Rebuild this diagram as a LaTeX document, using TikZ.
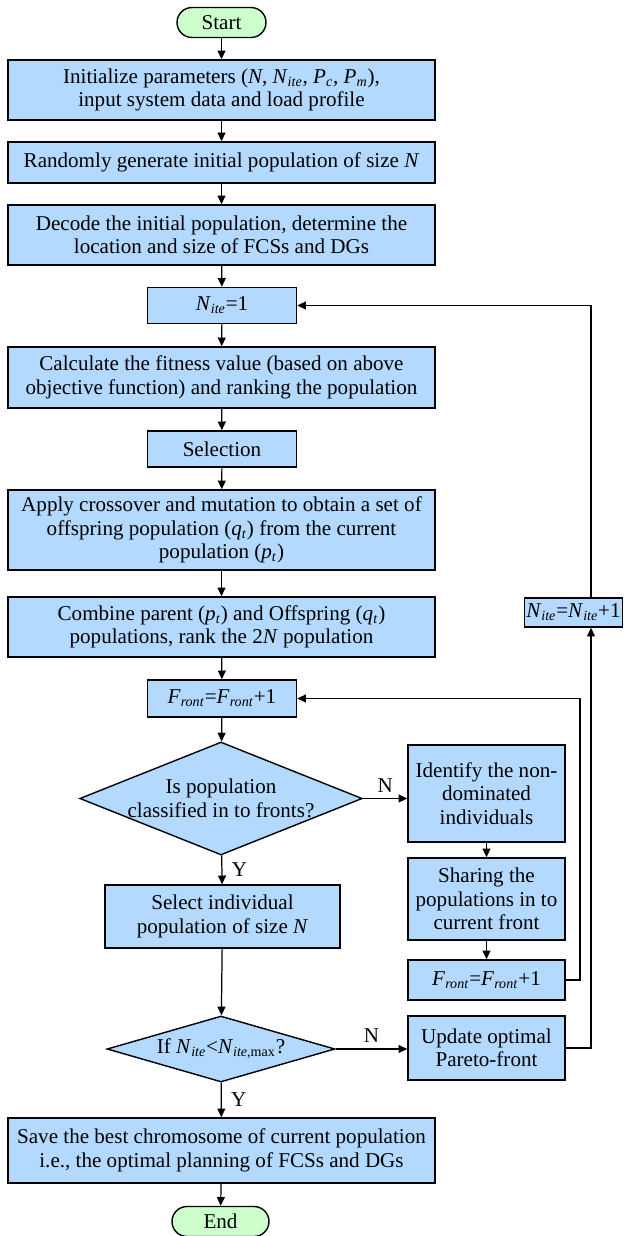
\documentclass[tikz,border=0pt]{standalone}
\usepackage{fontspec}
\setmainfont{Liberation Serif}
\usetikzlibrary{positioning, arrows.meta, shapes.geometric, calc}

\definecolor{boxblue}{RGB}{179,217,255}
\definecolor{termgreen}{RGB}{204,255,204}
% italic symbol with italic subscript
\newcommand{\subit}[2]{\textit{#1}\textsubscript{\textit{#2}}}

\begin{document}
\begin{tikzpicture}[
			x=0.02cm, y=-0.02cm, % one unit = one pixel of the layout
			>={Triangle[length=5pt,width=4.5pt]},
			font=\fontsize{12}{13.3}\selectfont,
			% Style for the start / end terminals
			terminal/.style={
				rectangle,
				rounded corners=0.3cm,
				draw,
				line width=0.8pt,
				fill=termgreen,
				minimum height=0.6cm,
				inner sep=1pt
			},
			% Style for the process boxes
			process/.style={
				rectangle,
				draw,
				line width=0.8pt,
				fill=boxblue,
				align=center,
				inner sep=1pt
			},
			wide/.style={process, minimum width=8.54cm},
			narrow/.style={process, minimum width=2.98cm, minimum height=0.72cm},
			side/.style={process, minimum width=3.14cm},
			% Style for the decisions
			decision/.style={
				diamond,
				draw,
				line width=0.8pt,
				fill=boxblue,
				align=center,
				inner sep=0pt
			},
			% Style for the connectors
			flow/.style={->, line width=0.7pt}
			]
			
			\useasboundingbox (0,0) rectangle (623,1236);
			
			% --- MAIN COLUMN ---
			\node[terminal, minimum width=1.78cm] (start) at (221.5,22.5) {Start};
			\node[wide, minimum height=1.2cm] (init) at (221.5,90) {Initialize parameters (\textit{N}, \subit{N}{ite}, \subit{P}{c}, \subit{P}{m}),\\input system data and load profile};
			\node[wide, minimum height=0.82cm] (rand) at (221.5,162.5) {Randomly generate initial population of size \textit{N}};
			\node[wide, minimum height=1.2cm] (decode) at (221.5,235) {Decode the initial population, determine the\\location and size of FCSs and DGs};
			\node[narrow] (nite1) at (222,305.5) {\subit{N}{ite}=1};
			\node[wide, minimum height=1.22cm] (fitness) at (221.5,377.5) {Calculate the fitness value (based on above\\objective function) and ranking the population};
			\node[narrow] (select) at (222,449) {Selection};
			\node[wide, minimum height=1.6cm] (cross) at (221.5,530) {Apply crossover and mutation to obtain a set of\\offspring population (\subit{q}{t}) from the current\\population (\subit{p}{t})};
			\node[wide, minimum height=1.2cm] (combine) at (221.5,627) {Combine parent (\subit{p}{t}) and Offspring (\subit{q}{t})\\populations, rank the 2\textit{N} population};
			\node[narrow, minimum height=0.74cm] (front1) at (222,698.5) {\subit{F}{ront}=\subit{F}{ront}+1};
			\node[decision, aspect=2.5, minimum width=5.64cm, minimum height=2.26cm] (fronts) at (221,798.5) {Is population\\classified in to fronts?};
			\node[process, minimum width=4.7cm, minimum height=1.26cm] (selind) at (222.5,916.5) {Select individual\\population of size \textit{N}};
			\node[decision, aspect=3.45, minimum width=4.56cm, minimum height=1.32cm] (itecheck) at (221,1049) {If \textit{N}\textsubscript{\textit{ite}}<\textit{N}\textsubscript{\textit{ite},max}?};
			\node[wide, minimum height=1.3cm] (save) at (221.5,1150.5) {Save the best chromosome of current population\\i.e., the optimal planning of FCSs and DGs};
			\node[terminal, minimum width=1.94cm] (end) at (220.5,1221.5) {End};
			
			% --- SIDE COLUMN ---
			\node[side, minimum height=1.94cm] (ident) at (486.5,793.5) {Identify the non-\\dominated\\individuals};
			\node[side, minimum height=1.64cm] (share) at (486.5,899) {Sharing the\\populations in to\\current front};
			\node[side, minimum height=0.8cm] (front2) at (486.5,980) {\subit{F}{ront}=\subit{F}{ront}+1};
			\node[side, minimum height=1.28cm] (update) at (486.5,1048) {Update optimal\\Pareto-front};
			\node[process, minimum width=1.94cm, minimum height=0.58cm] (nitep) at (573.5,612.5) {\subit{N}{ite}=\subit{N}{ite}+1};
			
			% loop lines on the right
			\coordinate (floop) at (580,0);
			\coordinate (nloop) at (591,0);
			
			% --- EDGES ---
			\draw[flow] (start) -- (init);
			\draw[flow] (init) -- (rand);
			\draw[flow] (rand) -- (decode);
			\draw[flow] (decode) -- (nite1);
			\draw[flow] (nite1) -- (fitness);
			\draw[flow] (fitness) -- (select);
			\draw[flow] (select) -- (cross);
			\draw[flow] (cross) -- (combine);
			\draw[flow] (combine) -- (front1);
			\draw[flow] (front1) -- (fronts);
			\draw[flow] (fronts) -- node[right, xshift=2pt] {Y} (selind);
			\draw[flow] (selind) -- (itecheck);
			\draw[flow] (itecheck) -- node[right, xshift=2pt] {Y} (save);
			\draw[flow] (save) -- (end);
			
			% Non-dominated sorting branch
			\draw[flow] (fronts.east) -- node[above] {N} (fronts.east -| ident.west);
			\draw[flow] (ident) -- (share);
			\draw[flow] (share) -- (front2);
			\draw[flow] (front2.east) -- (front2.east -| floop) |- (front1.east);
			
			% Iteration branch
			\draw[flow] (itecheck.east) -- node[above] {N} (itecheck.east -| update.west);
			\draw[flow] (update.east) -| (nitep.south -| nloop);
			\draw[flow] (nitep.north -| nloop) |- (nite1.east);
			
		\end{tikzpicture}
\end{document}
